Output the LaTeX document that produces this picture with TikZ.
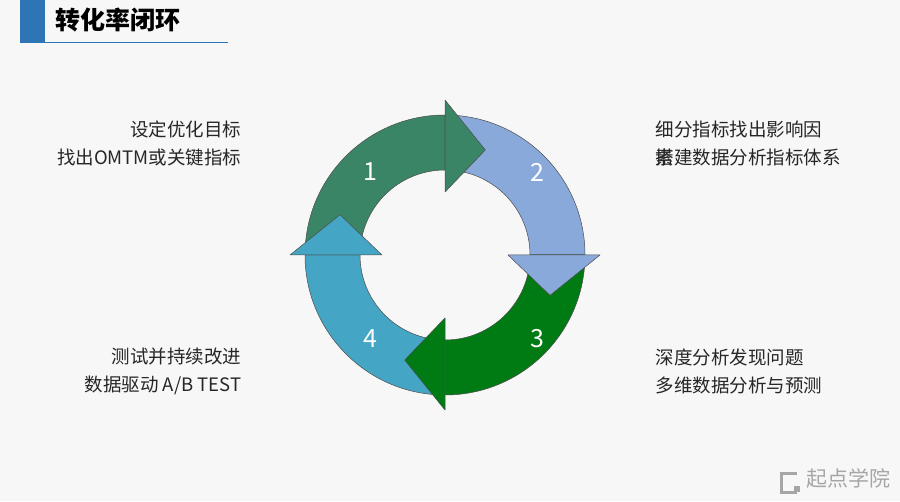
\documentclass[tikz,border=0pt]{standalone}
\usepackage{fontspec}
\setmainfont{Noto Sans CJK SC}
\usetikzlibrary{calc}
\definecolor{bg}{HTML}{F7F7F7}
\definecolor{cA}{HTML}{3A8566}
\definecolor{cB}{HTML}{88A9DA}
\definecolor{cC}{HTML}{007A12}
\definecolor{cD}{HTML}{45A5C4}
\definecolor{tb}{HTML}{2E75B6}
\tikzset{seg/.style={draw=black!70,line width=0.5pt,line join=round},
 num/.style={text=white,font=\fontsize{25}{25}\selectfont},
 lab/.style={font=\fontsize{18.5}{28}\selectfont,text=black!85,align=left}}
\newcommand{\ringbody}[3]{\path[seg,fill=#3] ($(C)+(#1:140)$) arc[start angle=#1,end angle=#2,radius=140] -- ($(C)+(#2:85)$) arc[start angle=#2,end angle=#1,radius=85] -- cycle;}
\newcommand{\ringhead}[2]{\path[seg,fill=#2] ($(C)+(#1:63)$) -- ($(C)+(#1:155)$) -- ($(C)+(#1-21:112.5)$) -- cycle;}
\begin{document}
\begin{tikzpicture}[x=1pt,y=1pt]
\fill[bg] (0,0) rectangle (900,501);
\useasboundingbox (0,0) rectangle (900,501);
\fill[tb] (20,458) rectangle (45,501);
\draw[tb,line width=1pt] (20,458) -- (228,458);
\node[anchor=west,font=\fontsize{25}{25}\selectfont\bfseries] (title) at (52,481) {转化率闭环};
\coordinate (C) at (445,246);
\ringbody{180}{90}{cA}
\ringbody{90}{0}{cB}
\ringbody{0}{-90}{cC}
\ringbody{-90}{-180}{cD}
\ringhead{90}{cA}
\ringhead{0}{cB}
\ringhead{-90}{cC}
\ringhead{180}{cD}
\node[num] (n1) at (370,329) {1};
\node[num] (n2) at (537,329) {2};
\node[num] (n3) at (537,162) {3};
\node[num] (n4) at (370,162) {4};
\node[lab,anchor=east,align=right] (t1) at (245,358) {设定优化目标\\找出OMTM或关键指标};
\node[lab,anchor=west] (t2) at (652,372) {细分指标找出影响因};
\node[lab,anchor=west] (t2b) at (652,344) {素};
\node[lab,anchor=west] (t2c) at (652,344) {搭建数据分析指标体系};
\node[lab,anchor=east,align=right] (t4) at (245,130) {测试并持续改进\\数据驱动 A/B TEST};
\node[lab,anchor=west] (t3) at (652,130) {深度分析发现问题\\多维数据分析与预测};
\draw[black!35,line width=3pt] (797,28) -- (781,28) -- (781,9) -- (797,9);
\fill[black!35] (794,9) rectangle (800,15);
\node[anchor=west,text=black!35,font=\fontsize{21}{21}\selectfont] (wm) at (803,22) {起点学院};
\end{tikzpicture}
\end{document}
